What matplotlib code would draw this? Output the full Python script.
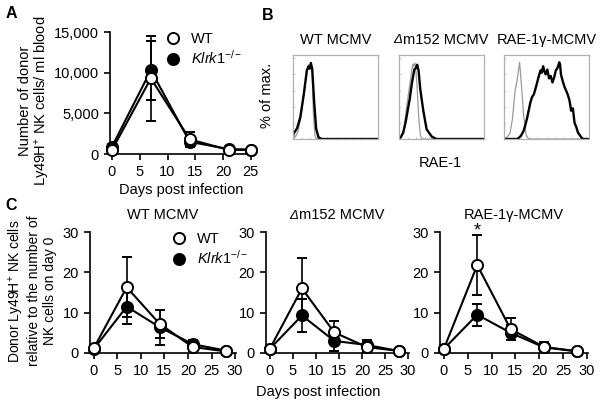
import matplotlib
matplotlib.use("Agg")
import matplotlib.pyplot as plt
from matplotlib.lines import Line2D
from matplotlib.transforms import offset_copy

plt.rcParams['font.family'] = ['Liberation Sans', 'DejaVu Sans']
plt.rcParams['mathtext.fontset'] = 'custom'
plt.rcParams['mathtext.rm'] = 'Liberation Sans'
plt.rcParams['mathtext.it'] = 'Liberation Sans:italic'
plt.rcParams['font.size'] = 10

# Panel A: donor Ly49H+ NK cells / ml blood
a_days = [0, 7, 14, 21, 25]
a_wt = [500, 9300, 1800, 500, 500]
a_wt_err = [250, 5200, 900, 150, 100]
a_ko = [900, 10300, 1500, 600, 550]
a_ko_err = [300, 3600, 600, 150, 100]

# Panel B: histograms (x in % of axis width, y in % of max)
b_titles = ['WT MCMV', 'm152 MCMV', 'RAE-1\u03b3-MCMV']
b1_black_x = [0, 0.8, 4.7, 8.6, 12.5, 16.3, 18.3, 19.5, 21, 22.6, 24.9, 27.2, 30, 33.9, 100]
b1_black_y = [3, 7, 13, 27, 54, 85, 90, 87, 94, 87, 46, 13, 2, 0, 0]
b1_gray_x = [0, 3, 6, 9, 12.5, 16.3, 18.3, 20, 21, 22.6, 24, 26, 28, 100]
b1_gray_y = [0, 3, 10, 25, 52, 83, 92, 90, 95, 80, 30, 3, 0, 0]
b2_black_x = [0, 2, 5, 8, 11, 12.7, 15, 18, 20, 21.4, 23, 25, 28.6, 32.5, 38.5, 44, 100]
b2_black_y = [0, 2, 8, 22, 40, 50, 68, 86, 88, 92, 85, 62, 35, 12, 3, 0, 0]
b2_gray_x = [0, 3, 6, 9, 12, 15, 16.5, 17.5, 19, 21, 23, 25, 26.6, 100]
b2_gray_y = [0, 4, 14, 40, 62, 85, 93, 90, 94, 70, 30, 6, 0, 0]
b3_black_x = [0, 15, 17, 20, 23, 25, 27, 29, 31, 33, 35, 37, 39, 41, 43, 44.5, 46, 47.5, 49, 51, 53, 55, 57,
              59, 61, 63, 65, 66, 67, 69, 71, 73, 75, 77, 79, 81, 83, 85, 87, 89, 91, 93, 95, 100]
b3_black_y = [0, 0, 1, 4, 10, 17, 25, 35, 45, 52, 55, 62, 70, 78, 85, 82, 90, 84, 80, 86, 75, 78, 70,
              76, 85, 88, 95, 92, 80, 72, 65, 60, 55, 48, 35, 38, 20, 15, 8, 5, 2, 0, 0, 0]
b3_gray_x = [0, 2, 4, 7, 10, 13, 15, 17, 18.4, 19.5, 21, 23, 26, 29, 100]
b3_gray_y = [0, 1, 3, 7, 25, 60, 70, 85, 95, 80, 60, 30, 5, 0, 0]

# Panel C: relative to day 0
c_days = [0, 7, 14, 21, 28]
c_titles = ['WT MCMV', 'm152 MCMV', 'RAE-1\u03b3-MCMV']
c_wt = [[1.2, 16.3, 7.2, 1.5, 0.4],
        [1.0, 16.0, 5.1, 1.5, 0.5],
        [1.0, 21.8, 5.9, 1.5, 0.4]]
c_wt_err = [[0.2, 7.4, 3.5, 1.0, 0.2],
            [0.2, 7.5, 2.9, 1.2, 0.2],
            [0.2, 7.4, 2.8, 1.2, 0.2]]
c_ko = [[1.0, 11.5, 6.4, 2.2, 0.6],
        [1.0, 9.3, 3.0, 2.0, 0.5],
        [1.0, 9.5, 5.0, 1.4, 0.4]]
c_ko_err = [[0.2, 4.3, 4.3, 1.0, 0.2],
            [0.2, 4.0, 2.6, 1.2, 0.2],
            [0.2, 2.7, 1.9, 1.2, 0.2]]

fig = plt.figure(figsize=(6.02, 4.08), dpi=100)
W, H = 602.0, 408.0


def px_axes(l, t, r, b):
    return fig.add_axes([l / W, 1 - b / H, (r - l) / W, (b - t) / H])


def style(ax):
    for s in ['top', 'right']:
        ax.spines[s].set_visible(False)
    for s in ['left', 'bottom']:
        ax.spines[s].set_linewidth(1.2)
    ax.tick_params(width=1.2, length=4, labelsize=10.5, pad=4)


def plot_pair(ax, x, wt, wt_err, ko, ko_err):
    kw = dict(color='black', lw=1.5, capsize=3.5, elinewidth=1.2, capthick=1.2,
              marker='o', ms=8, mec='black', mew=1.4, clip_on=False)
    ax.errorbar(x, ko, yerr=ko_err, mfc='black', zorder=3, **kw)
    ax.errorbar(x, wt, yerr=wt_err, mfc='white', zorder=4, **kw)


def title(ax, text, pad_pt, delta=False):
    # title above the axes; the Δm152 virus gets an italic delta in front
    dx = 3.0 if delta else 0
    tr = offset_copy(ax.transAxes, fig=fig, x=dx, y=pad_pt, units='points')
    t = ax.text(0.5, 1.0, text, transform=tr, ha='center', va='bottom', fontsize=10.5)
    if delta:
        ax.annotate('\u0394', xy=(0, 0), xycoords=t, ha='right', va='bottom',
                    fontsize=9.5, style='italic', xytext=(-0.5, 0.3), textcoords='offset points')


handles = [Line2D([], [], ls='none', marker='o', ms=8, mfc='white', mec='black', mew=1.4),
           Line2D([], [], ls='none', marker='o', ms=8, mfc='black', mec='black', mew=1.4)]
labels = ['WT', r'$\mathit{Klrk1}^{-/-}$']
leg_kw = dict(loc='upper left', frameon=False, fontsize=10.5, handlelength=1.0,
              handletextpad=0.7, labelspacing=0.2, borderpad=0)

# ---- A
axA = px_axes(110, 32, 253, 154)
style(axA)
plot_pair(axA, a_days, a_wt, a_wt_err, a_ko, a_ko_err)
axA.set_xlim(-0.36, 25.4)
axA.set_ylim(0, 15000)
axA.set_xticks([0, 5, 10, 15, 20, 25])
axA.set_yticks([0, 5000, 10000, 15000])
axA.set_yticklabels(['0', '5,000', '10,000', '15,000'])
axA.set_xlabel('Days post infection', fontsize=10.5, labelpad=3)
fig.text(35 / W, 1 - 101 / H, 'Number of donor\nLy49H$^{+}$ NK cells/ ml blood', rotation=90,
         ha='center', va='center', fontsize=10.5, linespacing=1.1)
axA.legend(handles, labels, bbox_to_anchor=(0.34, 1.06), **leg_kw)

# ---- B
box_lefts = [293, 399, 504]
b_data = [(b1_black_x, b1_black_y, b1_gray_x, b1_gray_y),
          (b2_black_x, b2_black_y, b2_gray_x, b2_gray_y),
          (b3_black_x, b3_black_y, b3_gray_x, b3_gray_y)]
for i, l in enumerate(box_lefts):
    ax = px_axes(l, 55, l + 85, 139)
    bx, by, gx, gy = b_data[i]
    ax.plot(gx, gy, color='#9a9a9a', lw=0.9)
    ax.plot(bx, by, color='black', lw=1.7)
    ax.set_xlim(0, 100)
    ax.set_ylim(0, 104)
    for s in ax.spines.values():
        s.set_color('#b0b0b0')
        s.set_linewidth(0.9)
    ax.set_xticks([0, 10, 20, 30, 40, 50, 60, 70, 80, 90, 100])
    ax.set_yticks([0, 20, 40, 60, 80, 100])
    ax.tick_params(direction='in', length=1.5, width=0.5, color='#b0b0b0',
                   labelbottom=False, labelleft=False)
    title(ax, b_titles[i], 6, delta=(i == 1))
fig.text(267 / W, 1 - 95 / H, '% of max.', rotation=90, ha='center', va='center', fontsize=10.5)
fig.text(440 / W, 1 - 163 / H, 'RAE-1', ha='center', va='center', fontsize=10.5)

# ---- C
c_lefts = [(90, 236), (266, 409), (440, 588)]
for i, (l, r) in enumerate(c_lefts):
    ax = px_axes(l, 232, r, 353)
    style(ax)
    plot_pair(ax, c_days, c_wt[i], c_wt_err[i], c_ko[i], c_ko_err[i])
    ax.set_xlim(-0.8, 30.2)
    ax.set_ylim(0, 30)
    ax.set_xticks([0, 5, 10, 15, 20, 25, 30])
    ax.set_yticks([0, 10, 20, 30])
    title(ax, c_titles[i], 7, delta=(i == 1))
    if i == 0:
        ax.legend(handles, labels, bbox_to_anchor=(0.51, 1.06), **leg_kw)
    if i == 2:
        ax.text(c_days[1], 30.3, '*', ha='center', va='center', fontsize=13)
fig.text(32 / W, 1 - 291 / H,
         'Donor Ly49H$^{+}$ NK cells\nrelative to the number of\nNK cells on day 0', rotation=90,
         ha='center', va='center', fontsize=10, linespacing=1.15)
fig.text(318 / W, 1 - 392 / H, 'Days post infection', ha='center', va='center', fontsize=10.5)

# panel letters
fig.text(6 / W, 1 - 13 / H, 'A', fontsize=11.5, fontweight='bold', va='center')
fig.text(262 / W, 1 - 15 / H, 'B', fontsize=11.5, fontweight='bold', va='center')
fig.text(5 / W, 1 - 206 / H, 'C', fontsize=11.5, fontweight='bold', va='center')

fig.savefig('out.png', dpi=100)
